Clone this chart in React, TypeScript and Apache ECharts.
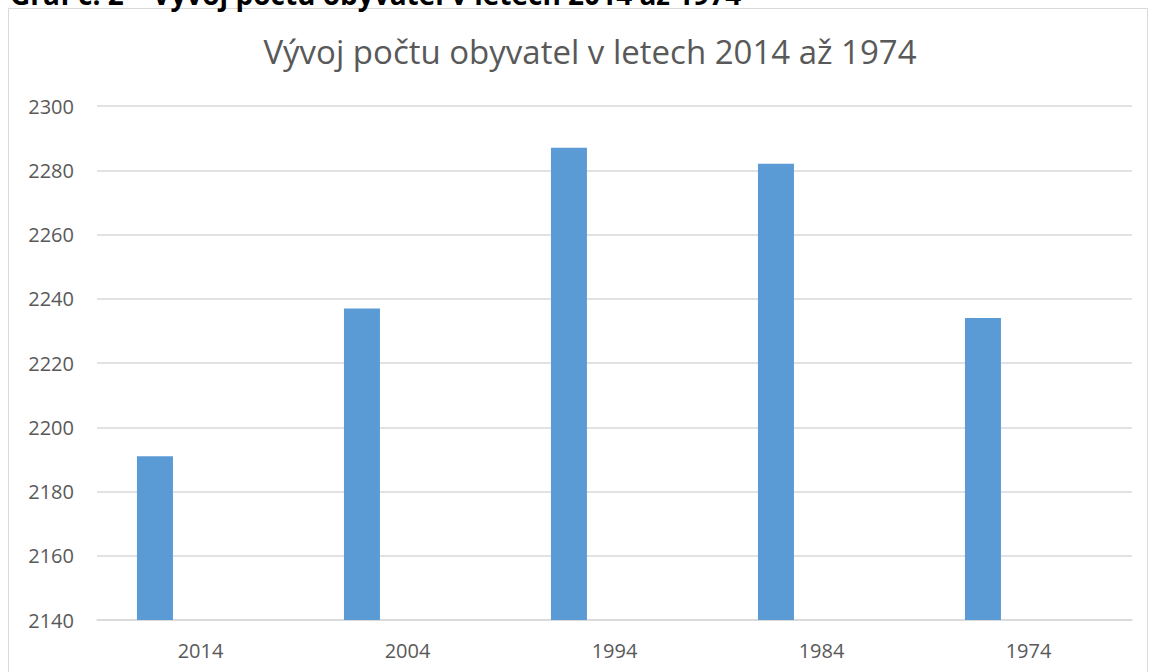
import React, { useEffect, useRef } from "react";
import * as echarts from "echarts";

const categories = ["2014", "2004", "1994", "1984", "1974"];
const populationValues = [2191, 2237, 2287, 2282, 2234];
const emptySeries = [null, null, null, null, null];
const yTicks = { min: 2140, max: 2300, interval: 20 };
const chartTitle = "Vývoj počtu obyvatel v letech 2014 až 1974";
const captionText = "Graf č. 2 – Vývoj počtu obyvatel v letech 2014 až 1974";

export default function App() {
  const ref = useRef<HTMLDivElement>(null);
  useEffect(() => {
    if (!ref.current) return;
    const chart = echarts.init(ref.current, undefined, { renderer: "svg" });
    chart.setOption({
      animation: false,
      backgroundColor: "#ffffff",
      textStyle: { fontFamily: "Open Sans" },
      title: {
        text: chartTitle,
        left: 585,
        textAlign: "center",
        top: 30,
        textStyle: {
          fontFamily: "Open Sans",
          fontSize: 33,
          fontWeight: "normal",
          color: "#595959",
        },
      },
      graphic: [
        {
          type: "rect",
          shape: { x: 8.5, y: 8.5, width: 1139, height: 700 },
          style: { fill: "none", stroke: "#d9d9d9", lineWidth: 1 },
          silent: true,
        },
        {
          type: "text",
          x: 10,
          y: 8,
          style: {
            text: captionText,
            fontFamily: "Open Sans",
            fontWeight: "bold",
            fontSize: 28,
            fill: "#000000",
            verticalAlign: "bottom",
          },
          silent: true,
        },
      ],
      grid: { left: 97, right: 19, top: 106, bottom: 52 },
      xAxis: {
        type: "category",
        data: categories,
        axisLine: { show: true, lineStyle: { color: "#d9d9d9", width: 1.5 } },
        axisTick: { show: false },
        axisLabel: {
          color: "#595959",
          fontSize: 20,
          margin: 20,
          fontFamily: "Open Sans",
        },
      },
      yAxis: {
        type: "value",
        min: yTicks.min,
        max: yTicks.max,
        interval: yTicks.interval,
        axisLine: { show: false },
        axisTick: { show: false },
        axisLabel: {
          color: "#595959",
          fontSize: 20,
          margin: 23,
          fontFamily: "Open Sans",
          formatter: (v: number) => String(v),
        },
        splitLine: { lineStyle: { color: "#d9d9d9", width: 1.5 } },
      },
      series: [
        {
          type: "bar",
          data: populationValues,
          barWidth: 36,
          barGap: "153%",
          itemStyle: { color: "#5b9bd5" },
        },
        {
          type: "bar",
          data: emptySeries,
          barWidth: 36,
          itemStyle: { color: "#ed7d31" },
        },
      ],
    });
    return () => chart.dispose();
  }, []);
  return (
    <div
      ref={ref}
      style={{
        position: "absolute",
        left: 0,
        top: 0,
        width: 1151,
        height: 672,
        background: "#fff",
      }}
    />
  );
}
